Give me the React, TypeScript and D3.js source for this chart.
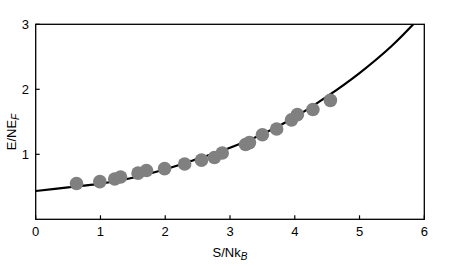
import React from 'react';
import { scaleLinear, line, curveCatmullRom } from 'd3';

// measured points (S/NkB, E/NEF)
const pointS = [0.63, 0.99, 1.22, 1.31, 1.58, 1.71, 1.99, 2.30, 2.56, 2.76, 2.88, 3.24, 3.30, 3.50, 3.72, 3.95, 4.04, 4.28, 4.55];
const pointE = [0.55, 0.58, 0.62, 0.65, 0.71, 0.75, 0.78, 0.85, 0.91, 0.95, 1.02, 1.15, 1.18, 1.30, 1.39, 1.53, 1.61, 1.69, 1.83];

// theory curve (runs past the top and gets clipped)
const curveS = [0, 0.5, 1, 1.5, 2, 2.5, 3, 3.5, 4, 4.5, 5, 5.5, 6];
const curveE = [0.435, 0.49, 0.55, 0.64, 0.77, 0.93, 1.1, 1.31, 1.57, 1.89, 2.25, 2.67, 3.18];

const xTicks = [0, 1, 2, 3, 4, 5, 6];
const yTicks = [1, 2, 3];

const W = 450;
const H = 266;
const m = { left: 35.7, right: 424.3, top: 24.3, bottom: 219.3 };

const App = () => {
  const x = scaleLinear().domain([0, 6]).range([m.left, m.right]);
  const y = scaleLinear().domain([0, 3]).range([m.bottom, m.top]);

  const path = line<number>()
    .x((d, i) => x(curveS[i]))
    .y(d => y(d))
    .curve(curveCatmullRom)(curveE);

  const font = 'Liberation Sans, Arial, sans-serif';

  return (
    <svg width={W} height={H} style={{ position: 'absolute', left: 0, top: 0 }} fontFamily={font}>
      <rect x={0} y={0} width={W} height={H} fill="white" />
      <defs>
        <clipPath id="plot">
          <rect x={m.left} y={m.top} width={m.right - m.left} height={m.bottom - m.top} />
        </clipPath>
      </defs>

      <path d={path || ''} fill="none" stroke="black" strokeWidth={2.2} clipPath="url(#plot)" />

      {pointS.map((s, i) => (
        <circle key={i} cx={x(s)} cy={y(pointE[i])} r={6.8} fill="#808080" />
      ))}

      <rect x={m.left} y={m.top} width={m.right - m.left} height={m.bottom - m.top}
        fill="none" stroke="black" strokeWidth={1.3} />

      {xTicks.map(t => (
        <g key={t}>
          <line x1={x(t)} x2={x(t)} y1={m.bottom} y2={m.bottom - 4} stroke="black" strokeWidth={1.2} />
          <text x={x(t)} y={236} textAnchor="middle" fontSize={13}>{t}</text>
        </g>
      ))}
      {yTicks.map(t => (
        <g key={t}>
          <line x1={m.left} x2={m.left + 4} y1={y(t)} y2={y(t)} stroke="black" strokeWidth={1.2} />
          <text x={29} y={y(t) + 4.7} textAnchor="end" fontSize={13}>{t}</text>
        </g>
      ))}

      <text x={230} y={257} textAnchor="middle" fontSize={13}>
        S/Nk<tspan fontStyle="italic" fontSize={10} dy={3}>B</tspan>
      </text>
      <text transform="translate(16,132) rotate(-90)" textAnchor="middle" fontSize={13}>
        E/NE<tspan fontStyle="italic" fontSize={10} dy={3}>F</tspan>
      </text>
    </svg>
  );
};

export default App;
